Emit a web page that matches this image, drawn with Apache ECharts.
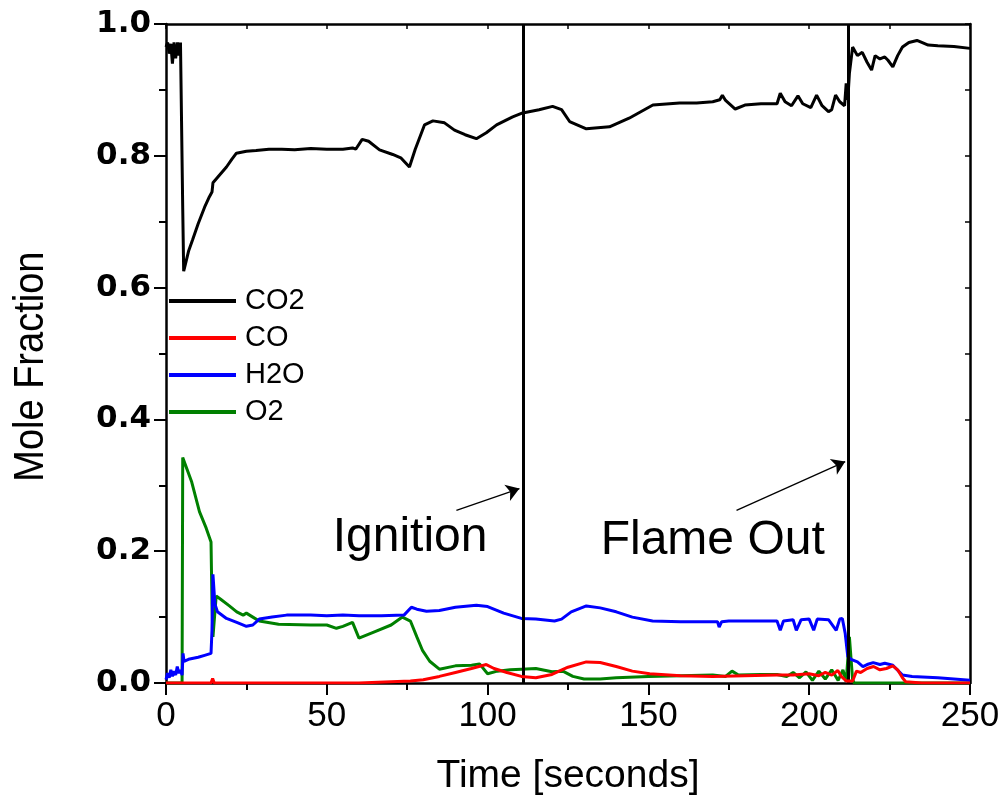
<!DOCTYPE html>
<html>
<head>
<meta charset="utf-8">
<script src="https://cdn.jsdelivr.net/npm/echarts@6/dist/echarts.min.js"></script>
<style>
html,body{margin:0;padding:0;background:#fff;}
#chart{width:1003px;height:801px;}
</style>
</head>
<body>
<div id="chart"></div>
<script>
// ---- data: [time s, mole fraction] ----
const seriesNames = ['CO2', 'CO', 'H2O', 'O2'];
const xTicks = [0, 50, 100, 150, 200, 250];
const yTicks = [0.0, 0.2, 0.4, 0.6, 0.8, 1.0];
const eventTimes = [111, 212];          // Ignition, Flame Out
const eventLabels = ['Ignition', 'Flame Out'];

const co2 = [[0,0.965],[0.5,0.972],[1,0.955],[1.5,0.97],[2,0.94],[2.5,0.972],[3,0.948],[3.3,0.96],[3.6,0.972],[4,0.952],[4.5,0.972],[5,0.97],[5.2,0.72],[5.5,0.625],[6,0.635],[7,0.655],[8.3,0.673],[10,0.697],[12,0.722],[13.5,0.738],[14.3,0.745],[14.6,0.759],[16,0.767],[18.8,0.783],[20.5,0.795],[21.9,0.804],[25,0.807],[28,0.808],[32,0.81],[36,0.81],[40,0.809],[45,0.811],[50,0.81],[55,0.81],[58,0.812],[59,0.81],[61,0.825],[63,0.822],[66.4,0.809],[70.5,0.802],[73,0.797],[75.7,0.783],[77.5,0.81],[80.4,0.847],[83,0.853],[86.6,0.85],[89.7,0.839],[93,0.832],[96.5,0.826],[99.6,0.835],[102.8,0.847],[107.8,0.859],[110.9,0.865],[116,0.87],[120.2,0.875],[123,0.87],[125.5,0.852],[130.7,0.841],[137.9,0.844],[144,0.857],[151.4,0.877],[159.7,0.88],[165,0.88],[170,0.882],[172.2,0.885],[173,0.892],[174,0.884],[177,0.871],[180,0.877],[185,0.879],[190,0.879],[191,0.895],[192.5,0.882],[194.5,0.876],[196.5,0.891],[198,0.879],[200.5,0.873],[202.3,0.892],[204,0.876],[206,0.867],[207,0.87],[208.2,0.892],[209.5,0.882],[211,0.876],[211.5,0.91],[212,0.885],[212.5,0.925],[213.5,0.965],[215,0.952],[216.5,0.957],[218,0.942],[219.4,0.93],[220.5,0.952],[222,0.947],[223.5,0.95],[224.5,0.945],[226,0.935],[227.5,0.952],[229,0.965],[231,0.972],[233.5,0.975],[235,0.972],[237,0.968],[240,0.967],[245,0.966],[250,0.963]];

const co = [[0,0],[14,0],[14.5,0.007],[15,0],[60,0],[70,0.002],[76,0.003],[80,0.005],[85,0.01],[90,0.016],[95,0.022],[99.6,0.028],[102,0.022],[106,0.016],[110.5,0.01],[115,0.008],[120,0.013],[125,0.024],[130.7,0.032],[135,0.031],[140,0.025],[145,0.018],[150.4,0.014],[160,0.011],[170,0.01],[180,0.011],[190,0.012],[195,0.012],[200,0.014],[203,0.011],[205,0.016],[207,0.012],[208.9,0.019],[210,0.01],[211.5,0.003],[213.5,0.003],[214.7,0.018],[216,0.016],[218,0.022],[220,0.025],[222,0.02],[224,0.022],[226,0.026],[227.5,0.02],[229,0.008],[230,0.002],[235,0],[250,0]];

const h2o = [[0,0.005],[0.5,0.015],[1,0.008],[1.5,0.02],[2,0.01],[2.5,0.018],[3,0.012],[3.5,0.025],[4,0.015],[4.5,0.02],[5,0.012],[5.3,0.045],[5.6,0.033],[7,0.036],[10,0.039],[12,0.042],[14,0.045],[14.3,0.08],[14.6,0.165],[15.2,0.12],[16,0.108],[18.8,0.098],[22,0.092],[25,0.086],[27,0.088],[29,0.097],[33,0.1],[37.5,0.103],[45,0.103],[50,0.102],[55,0.103],[60,0.102],[67,0.102],[74,0.103],[76.3,0.115],[78,0.112],[81,0.109],[85,0.11],[90,0.115],[96.5,0.118],[100,0.116],[105,0.106],[110.5,0.098],[115,0.097],[120.8,0.094],[123,0.097],[126,0.108],[130.7,0.117],[135,0.114],[140,0.108],[145,0.1],[151.3,0.094],[160,0.093],[170,0.093],[171.5,0.093],[172,0.085],[172.8,0.093],[175,0.094],[180,0.094],[185,0.094],[190,0.094],[191,0.08],[192,0.094],[195,0.096],[196,0.08],[197.5,0.096],[200,0.097],[201.4,0.08],[202.5,0.097],[206,0.096],[208.4,0.08],[209.5,0.097],[210.3,0.098],[211.2,0.075],[212,0.04],[213,0.036],[215,0.032],[216.7,0.025],[218,0.028],[219.9,0.031],[222,0.028],[223.5,0.03],[226,0.027],[229,0.012],[232,0.01],[240,0.008],[245,0.006],[250,0.004]];

const o2 = [[0,0],[5,0],[5.2,0.342],[8,0.305],[10.4,0.26],[12.5,0.235],[14,0.214],[14.3,0.12],[14.6,0.07],[15.6,0.132],[17,0.127],[19.7,0.117],[22,0.108],[24,0.103],[25,0.106],[27,0.1],[29,0.094],[35,0.089],[45,0.088],[50,0.088],[53,0.083],[55,0.086],[58,0.092],[60,0.068],[65,0.078],[70,0.088],[73.5,0.1],[76,0.094],[78,0.07],[79.8,0.049],[82,0.033],[85,0.021],[90,0.026],[95,0.027],[97.5,0.029],[100,0.014],[103,0.018],[107,0.02],[110.5,0.021],[115,0.022],[120,0.017],[123.4,0.018],[126.5,0.01],[130,0.006],[135,0.006],[140,0.008],[150,0.01],[160,0.011],[170,0.012],[174,0.01],[176,0.018],[178,0.012],[185,0.013],[190,0.013],[193,0.01],[195,0.016],[197,0.008],[199,0.017],[201,0.004],[203,0.018],[205,0.006],[207,0.02],[209,0.004],[210.5,0.02],[211.5,0.002],[212.5,0.07],[213.5,0.005],[214,0],[250,0]];

// annotation anchors in data space
const arrowStarts = [[90.3, 0.262], [177.4, 0.262]];
const arrowEnds   = [[109.9, 0.295], [211.2, 0.336]];
const labelAnchors = [[75.9, 0.2205], [170.0, 0.216]];
const yTitleAnchor = [-42, 0.48];

const colors = ['#000000', '#ff0000', '#0000ff', '#008000'];
const dataSets = [co2, co, h2o, o2];
const FONT = "'Liberation Sans', Arial, sans-serif";

const chart = echarts.init(document.getElementById('chart'), null, {renderer: 'canvas'});

const lineSeries = seriesNames.map((n, i) => ({
  name: n, type: 'line', data: dataSets[i], symbol: 'none', showSymbol: false,
  lineStyle: {color: colors[i], width: 3}, itemStyle: {color: colors[i]},
  z: 3 + (3 - i), animation: false
}));

const markSeries = {
  name: 'markers', type: 'line', data: [], symbol: 'none', z: 10, silent: true,
  markLine: {
    silent: true, symbol: ['none', 'none'], animation: false,
    label: {show: false},
    lineStyle: {color: '#000', width: 3, type: 'solid'},
    data: eventTimes.map(t => ({xAxis: t}))
  }
};
const arrowSeries = {
  name: 'arrows', type: 'line', data: [], symbol: 'none', z: 10, silent: true,
  markLine: {
    silent: true, symbol: ['none', 'arrow'], symbolSize: 13, animation: false,
    label: {show: false},
    lineStyle: {color: '#000', width: 1.3, type: 'solid'},
    data: arrowStarts.map((s, i) => [{coord: s}, {coord: arrowEnds[i]}])
  }
};

const option = {
  animation: false,
  backgroundColor: '#fff',
  textStyle: {fontFamily: FONT},
  grid: {left: 166, right: 33, top: 24, bottom: 117, containLabel: false},
  legend: {
    data: seriesNames, orient: 'vertical', left: 169, top: 286, padding: 0,
    icon: 'rect', itemWidth: 67, itemHeight: 4, itemGap: 7,
    textStyle: {fontSize: 29, lineHeight: 30, color: '#000', fontFamily: FONT, padding: [0,0,0,4]},
    selectedMode: false
  },
  xAxis: [{
    type: 'value', min: 0, max: 250, interval: 50, position: 'bottom',
    name: 'Time [seconds]', nameLocation: 'middle', nameGap: 74,
    nameTextStyle: {fontSize: 39, color: '#000', fontFamily: FONT},
    axisLine: {onZero: false, lineStyle: {color: '#000', width: 2.5}},
    axisTick: {length: 12, lineStyle: {color: '#000', width: 2}},
    minorTick: {show: true, splitNumber: 2, length: 7, lineStyle: {color: '#000', width: 2}},
    axisLabel: {fontSize: 35, color: '#000', margin: 16, fontFamily: FONT,
      formatter: v => xTicks.includes(v) ? String(v) : ''},
    splitLine: {show: false}
  }, {
    type: 'value', min: 0, max: 250, interval: 25, position: 'top',
    axisLine: {show: true, onZero: false, lineStyle: {color: '#000', width: 2.5}},
    axisTick: {show: true, inside: true, length: 5, lineStyle: {color: '#000', width: 1.5}},
    axisLabel: {show: false}, splitLine: {show: false}
  }],
  yAxis: [{
    type: 'value', min: 0, max: 1.0, interval: 0.2, position: 'left',
    axisLine: {onZero: false, lineStyle: {color: '#000', width: 2.5}},
    axisTick: {length: 12, lineStyle: {color: '#000', width: 2}},
    minorTick: {show: true, splitNumber: 2, length: 7, lineStyle: {color: '#000', width: 2}},
    axisLabel: {fontSize: 31, fontWeight: 'bold', color: '#000', margin: 15,
      fontFamily: "'DejaVu Sans', sans-serif",
      formatter: v => yTicks.some(t => Math.abs(t - v) < 1e-9) ? v.toFixed(1) : ''},
    splitLine: {show: false}
  }, {
    type: 'value', min: 0, max: 1.0, interval: 0.1, position: 'right',
    axisLine: {show: true, onZero: false, lineStyle: {color: '#000', width: 2.5}},
    axisTick: {show: true, inside: true, length: 5, lineStyle: {color: '#000', width: 1.5}},
    axisLabel: {show: false}, splitLine: {show: false}
  }],
  series: lineSeries.concat([markSeries, arrowSeries])
};
chart.setOption(option);

const textGraphics = eventLabels.map((txt, i) => {
  const p = chart.convertToPixel({xAxisIndex: 0, yAxisIndex: 0}, labelAnchors[i]);
  return {
    type: 'text', x: p[0], y: p[1], z: 20, silent: true,
    style: {text: txt, fontSize: 48, fontFamily: FONT, fill: '#000', align: 'center', verticalAlign: 'middle'}
  };
});
// y-axis title, drawn slightly tall like the reference
const yt = chart.convertToPixel({xAxisIndex: 0, yAxisIndex: 0}, yTitleAnchor);
textGraphics.push({
  type: 'text', x: yt[0], y: yt[1], rotation: Math.PI / 2, scaleX: 1.0, scaleY: 1.12, z: 20, silent: true,
  style: {text: 'Mole Fraction', fontSize: 38, fontFamily: FONT, fill: '#000', align: 'center', verticalAlign: 'middle'}
});
chart.setOption({graphic: textGraphics});
</script>
</body>
</html>
